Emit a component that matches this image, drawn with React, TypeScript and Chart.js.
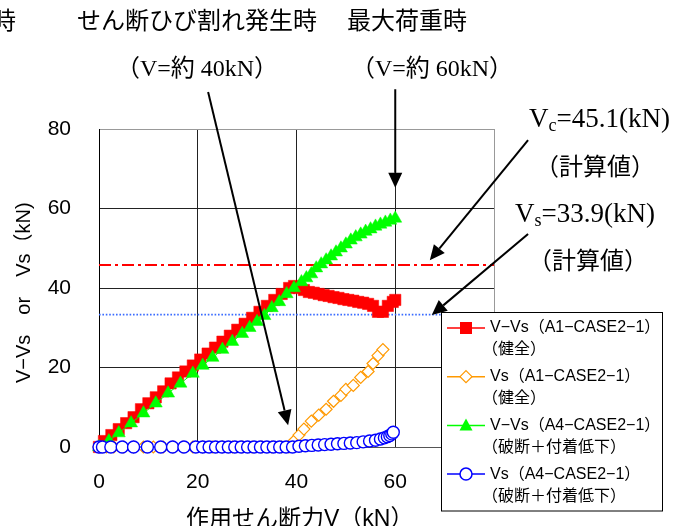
import React, { useEffect, useRef } from 'react';
import { Chart, registerables } from 'chart.js';

Chart.register(...registerables);

// ---- axes ----
const X_MIN = 0;
const X_MAX = 80;
const X_STEP = 20;
const Y_MIN = 0;
const Y_MAX = 80;
const Y_STEP = 20;

// ---- series: V-Vs (A1-CASE2-1) 健全 ----
const A1_VVS_V = [0, 1, 2.5, 4, 5.5, 7, 8.5, 10, 11.5, 13, 14.5, 16, 17.5, 19, 20.5, 22, 23.5, 25, 26.5, 28, 29.5, 31, 32.5, 34, 35.5, 37, 38.5, 39.5, 40.5, 41.5, 42.5, 43.5, 44.5, 45.5, 46.5, 47.5, 48.5, 49.5, 50.5, 51.5, 52.5, 53.5, 54.5, 55.5, 56.5, 57.5, 58.5, 59.5, 60];
const A1_VVS_Y = [0, 1.5, 3, 4.5, 6, 7.5, 9.5, 11, 12.5, 14, 16, 17.5, 19, 20.5, 22, 23.5, 25, 26.5, 28, 29.5, 31, 32.5, 34, 35.5, 37, 38.5, 40, 40.5, 40, 39.5, 39, 38.8, 38.5, 38.2, 38, 37.7, 37.5, 37.2, 37, 36.8, 36.5, 36.3, 36, 35.5, 34, 34, 35.5, 36.5, 37];

// ---- series: Vs (A1-CASE2-1) 健全 ----
const A1_VS_V = [0, 1.5, 3, 5, 7, 9, 11, 13, 15, 17, 19, 21, 23, 25, 27, 29, 31, 33, 35, 37, 38.5, 39.5, 40.5, 41.5, 43, 44.5, 46, 47.5, 49, 50, 51.5, 53, 54.5, 55.5, 56.5, 57.5];
const A1_VS_Y = [0, 0, 0, 0, 0, 0, 0, 0, 0, 0, 0, 0, 0, 0, 0, 0, 0, 0, 0, 0, 0, 1.5, 3, 4.5, 6.5, 8, 9.5, 11.5, 13, 14.5, 15.5, 17.5, 19, 21, 23, 24.5];

// ---- series: V-Vs (A4-CASE2-1) 破断＋付着低下 ----
const A4_VVS_V = [0, 2, 4, 6.5, 9, 11.5, 14, 16.5, 19, 21, 23, 25, 27, 29, 30.5, 32, 33.5, 35, 36.5, 38, 39.5, 41, 42, 43, 44, 45, 46, 47, 48, 49, 50, 51, 52, 53, 54, 55, 56, 57, 58, 59, 60];
const A4_VVS_Y = [0, 1.5, 3.5, 6, 8.5, 11, 13.5, 16, 18.5, 20.5, 22.5, 24.5, 26.5, 28.5, 30, 31.5, 33, 35, 36.5, 38.5, 40, 41.5, 42.5, 43.5, 45, 46, 47, 48, 49, 50, 51, 52, 52.8, 53.5, 54.2, 54.8, 55.5, 56, 56.5, 57, 57.5];

// ---- series: Vs (A4-CASE2-1) 破断＋付着低下 ----
const A4_VS_V = [0, 0.7, 2.4, 4.7, 7, 9.8, 12.5, 14.9, 17.2, 19.6, 21, 22.3, 23.6, 24.9, 26.2, 27.5, 28.8, 30.1, 31.4, 32.7, 34, 35.3, 36.6, 37.9, 39.2, 40.5, 41.8, 43.1, 44.4, 45.7, 47, 48.3, 49.6, 50.9, 52.2, 53.5, 54.8, 56, 57, 57.8, 58.4, 58.9, 59.3, 59.6];
const A4_VS_Y = [0, 0, 0, 0, 0, 0, 0, 0, 0, 0, 0, 0, 0, 0, 0, 0, 0, 0, 0, 0, 0, 0, 0, 0, 0, 0.2, 0.3, 0.4, 0.5, 0.6, 0.7, 0.8, 0.9, 1.0, 1.1, 1.3, 1.5, 1.7, 2.0, 2.3, 2.6, 2.9, 3.3, 3.7];

// ---- calculated reference levels ----
const VC_CALC = 45.8;
const VS_CALC = 33.3;

// ---- legend texts ----
const SERIES_NAMES = ['V−Vs（A1−CASE2−1）', 'Vs（A1−CASE2−1）', 'V−Vs（A4−CASE2−1）', 'Vs（A4−CASE2−1）'];
const SERIES_NOTES = ['（健全）', '（健全）', '（破断＋付着低下）', '（破断＋付着低下）'];
const SERIES_COLORS = ['#ff0000', '#ff9900', '#00ff00', '#0000ff'];

const X_TITLE = '作用せん断力V（kN）';
const Y_TITLE = 'V−Vs　or　Vs（kN)';

// annotation arrows (data coordinates)
const ARROWS = [
  { x1: 22.1, y1: 89.3, x2: 38.3, y2: 5.5 },
  { x1: 60, y1: 90, x2: 60, y2: 65.2 },
  { x1: 86.9, y1: 77.2, x2: 67.0, y2: 47.0 },
  { x1: 86.9, y1: 53.6, x2: 67.4, y2: 33.2 },
];

const SERIF = "'Liberation Serif', 'Noto Sans CJK JP', serif";
const SANS = "'Liberation Sans', 'Noto Sans CJK JP', sans-serif";
const GOTHIC = "'Noto Sans CJK JP', sans-serif";

const TOP_TEXTS = [
  { text: '時', x: -8, y: 23, align: 'left' },
  { text: 'せん断ひび割れ発生時', x: 197, y: 23, align: 'center' },
  { text: '最大荷重時', x: 407, y: 23, align: 'center' },
  { text: '（V=約 40kN）', x: 197, y: 70, align: 'center' },
  { text: '（V=約 60kN）', x: 432, y: 70, align: 'center' },
];

function toPts(xs: number[], ys: number[]) {
  return xs.map((x, i) => ({ x, y: ys[i] }));
}

function drawArrow(ctx: CanvasRenderingContext2D, x1: number, y1: number, x2: number, y2: number) {
  const ang = Math.atan2(y2 - y1, x2 - x1);
  const head = 15;
  const hw = 7;
  const bx = x2 - head * Math.cos(ang);
  const by = y2 - head * Math.sin(ang);
  ctx.strokeStyle = '#000';
  ctx.fillStyle = '#000';
  ctx.lineWidth = 2;
  ctx.setLineDash([]);
  ctx.beginPath();
  ctx.moveTo(x1, y1);
  ctx.lineTo(bx, by);
  ctx.stroke();
  ctx.beginPath();
  ctx.moveTo(x2, y2);
  ctx.lineTo(bx + hw * Math.sin(ang), by - hw * Math.cos(ang));
  ctx.lineTo(bx - hw * Math.sin(ang), by + hw * Math.cos(ang));
  ctx.closePath();
  ctx.fill();
}

function drawMarker(ctx: CanvasRenderingContext2D, kind: number, cx: number, cy: number, color: string) {
  ctx.setLineDash([]);
  ctx.beginPath();
  if (kind === 0) {
    ctx.fillStyle = color;
    ctx.fillRect(cx - 6, cy - 6, 12, 12);
    return;
  }
  if (kind === 1) {
    ctx.moveTo(cx, cy - 6);
    ctx.lineTo(cx + 6, cy);
    ctx.lineTo(cx, cy + 6);
    ctx.lineTo(cx - 6, cy);
    ctx.closePath();
    ctx.fillStyle = '#fff';
    ctx.fill();
    ctx.strokeStyle = color;
    ctx.lineWidth = 1.2;
    ctx.stroke();
    return;
  }
  if (kind === 2) {
    ctx.moveTo(cx, cy - 7);
    ctx.lineTo(cx + 6.5, cy + 5);
    ctx.lineTo(cx - 6.5, cy + 5);
    ctx.closePath();
    ctx.fillStyle = color;
    ctx.fill();
    return;
  }
  ctx.arc(cx, cy, 6, 0, Math.PI * 2);
  ctx.fillStyle = '#fff';
  ctx.fill();
  ctx.strokeStyle = color;
  ctx.lineWidth = 1.5;
  ctx.stroke();
}

function drawSubLabel(ctx: CanvasRenderingContext2D, x: number, y: number, sub: string, rest: string) {
  ctx.textAlign = 'left';
  ctx.textBaseline = 'middle';
  ctx.font = `27px ${SERIF}`;
  ctx.fillText('V', x, y);
  let cx = x + ctx.measureText('V').width;
  ctx.font = `18px ${SERIF}`;
  ctx.fillText(sub, cx, y + 6);
  cx += ctx.measureText(sub).width;
  ctx.font = `27px ${SERIF}`;
  ctx.fillText(rest, cx, y);
}

const overlayPlugin = {
  id: 'overlay',
  afterDatasetsDraw(chart: any) {
    const ctx: CanvasRenderingContext2D = chart.ctx;
    const xs = chart.scales.x;
    const ys = chart.scales.y;
    ctx.save();

    // arrows
    ARROWS.forEach((a) =>
      drawArrow(ctx, xs.getPixelForValue(a.x1), ys.getPixelForValue(a.y1), xs.getPixelForValue(a.x2), ys.getPixelForValue(a.y2))
    );

    // legend
    const lx = 441.5;
    const ly = 312.5;
    const lw = 221;
    const lh = 198.5;
    ctx.fillStyle = '#fff';
    ctx.fillRect(lx, ly, lw, lh);
    ctx.strokeStyle = '#000';
    ctx.lineWidth = 1;
    ctx.strokeRect(lx, ly, lw, lh);
    SERIES_NAMES.forEach((name, i) => {
      const rowY = 328 + i * 48.7;
      ctx.strokeStyle = SERIES_COLORS[i];
      ctx.lineWidth = 1.5;
      ctx.beginPath();
      ctx.moveTo(447, rowY);
      ctx.lineTo(485, rowY);
      ctx.stroke();
      drawMarker(ctx, i, 466, rowY, SERIES_COLORS[i]);
      ctx.fillStyle = '#000';
      ctx.font = `16px ${SANS}`;
      ctx.textAlign = 'left';
      ctx.textBaseline = 'middle';
      ctx.fillText(name, 490, rowY);
      ctx.fillText(SERIES_NOTES[i], 482, rowY + 22);
    });

    // top texts
    ctx.fillStyle = '#000';
    ctx.textBaseline = 'middle';
    ctx.font = `24px ${SERIF}`;
    TOP_TEXTS.forEach((t) => {
      ctx.textAlign = t.align as CanvasTextAlign;
      ctx.fillText(t.text, t.x, t.y);
    });

    // calculated value notes
    drawSubLabel(ctx, 529, 120, 'c', '=45.1(kN)');
    drawSubLabel(ctx, 515, 215, 's', '=33.9(kN)');
    ctx.font = `24px ${GOTHIC}`;
    ctx.textAlign = 'center';
    ctx.fillText('（計算値）', 595, 166);
    ctx.fillText('（計算値）', 588, 260);

    // axis titles
    ctx.font = `23px ${SANS}`;
    ctx.textAlign = 'left';
    ctx.fillText(X_TITLE, 186, 520);
    ctx.save();
    ctx.translate(24, 383);
    ctx.rotate(-Math.PI / 2);
    ctx.font = `20px ${SANS}`;
    ctx.textAlign = 'left';
    ctx.fillText(Y_TITLE, 0, 0);
    ctx.restore();

    ctx.restore();
  },
};

export default function App() {
  const ref = useRef<HTMLCanvasElement>(null);

  useEffect(() => {
    const canvas = ref.current;
    if (!canvas) return;
    const tickFont = { family: "'Liberation Sans', sans-serif", size: 21 };
    const chart = new Chart(canvas, {
      type: 'scatter',
      data: {
        datasets: [
          {
            label: SERIES_NAMES[0] + SERIES_NOTES[0],
            data: toPts(A1_VVS_V, A1_VVS_Y),
            showLine: true,
            borderColor: SERIES_COLORS[0],
            borderWidth: 1,
            pointStyle: 'rect',
            pointRadius: 8,
            pointBackgroundColor: SERIES_COLORS[0],
            pointBorderColor: SERIES_COLORS[0],
            pointBorderWidth: 0.5,
            clip: false,
            order: 4,
          },
          {
            label: SERIES_NAMES[1] + SERIES_NOTES[1],
            data: toPts(A1_VS_V, A1_VS_Y),
            showLine: true,
            borderColor: SERIES_COLORS[1],
            borderWidth: 1,
            pointStyle: 'rectRot',
            pointRadius: 6,
            pointBackgroundColor: '#ffffff',
            pointBorderColor: SERIES_COLORS[1],
            pointBorderWidth: 1.2,
            clip: false,
            order: 3,
          },
          {
            label: SERIES_NAMES[2] + SERIES_NOTES[2],
            data: toPts(A4_VVS_V, A4_VVS_Y),
            showLine: true,
            borderColor: SERIES_COLORS[2],
            borderWidth: 1,
            pointStyle: 'triangle',
            pointRadius: 7.5,
            pointBackgroundColor: SERIES_COLORS[2],
            pointBorderColor: SERIES_COLORS[2],
            pointBorderWidth: 0.5,
            clip: false,
            order: 2,
          },
          {
            label: SERIES_NAMES[3] + SERIES_NOTES[3],
            data: toPts(A4_VS_V, A4_VS_Y),
            showLine: true,
            borderColor: SERIES_COLORS[3],
            borderWidth: 1,
            pointStyle: 'circle',
            pointRadius: 6,
            pointBackgroundColor: '#ffffff',
            pointBorderColor: SERIES_COLORS[3],
            pointBorderWidth: 1.4,
            clip: false,
            order: 1,
          },
          {
            label: 'Vc',
            data: [{ x: X_MIN, y: VC_CALC }, { x: X_MAX, y: VC_CALC }],
            showLine: true,
            borderColor: '#ff0000',
            borderWidth: 2,
            borderDash: [12, 4, 3, 4],
            pointRadius: 0,
            order: 6,
          },
          {
            label: 'Vs',
            data: [{ x: X_MIN, y: VS_CALC }, { x: X_MAX, y: VS_CALC }],
            showLine: true,
            borderColor: '#3b6cff',
            borderWidth: 1.6,
            borderDash: [1.6, 1.8],
            pointRadius: 0,
            order: 5,
          },
        ],
      },
      options: {
        animation: false,
        responsive: false,
        devicePixelRatio: 1,
        layout: { padding: { top: 129, right: 183, left: 0, bottom: 0 } },
        plugins: { legend: { display: false }, tooltip: { enabled: false } },
        scales: {
          x: {
            type: 'linear',
            min: X_MIN,
            max: X_MAX,
            ticks: {
              stepSize: X_STEP,
              padding: 23,
              color: '#000',
              font: tickFont,
              callback: (v: any) => (v === X_MAX ? '' : String(v)),
            },
            grid: {
              drawTicks: false,
              color: (c: any) => (c.tick && c.tick.value === X_MAX ? '#999999' : '#222222'),
              lineWidth: 1,
            },
            border: { color: '#555555', width: 1 },
            afterFit: (s: any) => {
              s.height = 79;
            },
          },
          y: {
            type: 'linear',
            min: Y_MIN,
            max: Y_MAX,
            ticks: { stepSize: Y_STEP, padding: 28, color: '#000', font: tickFont },
            grid: {
              drawTicks: false,
              color: (c: any) => (c.tick && c.tick.value === Y_MAX ? '#999999' : '#222222'),
              lineWidth: 1,
            },
            border: { color: '#000000', width: 1 },
            afterFit: (s: any) => {
              s.width = 99;
            },
          },
        },
      },
      plugins: [overlayPlugin],
    } as any);
    return () => chart.destroy();
  }, []);

  return (
    <div style={{ position: 'absolute', left: 0, top: 0, width: 677, height: 526, background: '#fff' }}>
      <canvas ref={ref} width={677} height={526} style={{ display: 'block' }} />
    </div>
  );
}
